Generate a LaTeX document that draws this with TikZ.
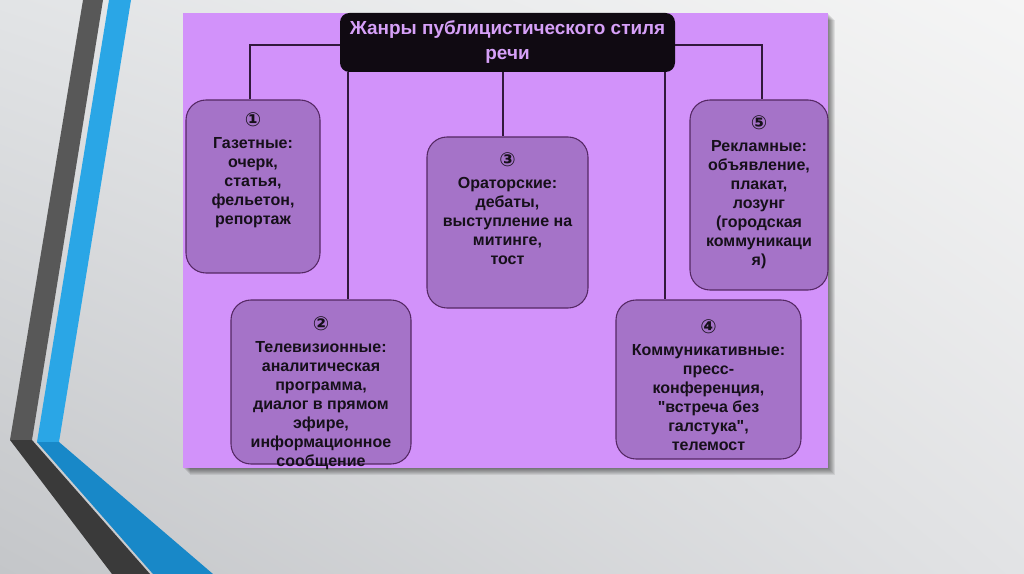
\documentclass[tikz,border=0pt]{standalone}
\usepackage{fontspec}
\setmainfont{Liberation Sans}[Ligatures=TeXOff]
\newfontfamily\symfont{DejaVu Sans}
\usetikzlibrary{shadings}
\definecolor{panelc}{RGB}{210,146,250}
\definecolor{boxc}{RGB}{165,115,200}
\definecolor{boxline}{RGB}{85,40,100}
\definecolor{titletext}{RGB}{214,160,248}
\definecolor{titlefill}{RGB}{16,10,18}
\definecolor{textc}{RGB}{22,16,26}
\definecolor{connc}{RGB}{50,25,60}
\definecolor{darkstripe}{RGB}{88,88,88}
\definecolor{darkstripeb}{RGB}{58,58,58}
\definecolor{bluestripe}{RGB}{42,166,230}
\definecolor{bluestripeb}{RGB}{24,136,200}
\definecolor{bgUL}{RGB}{226,228,230}
\definecolor{bgUR}{RGB}{245,245,245}
\definecolor{bgLL}{RGB}{196,198,201}
\definecolor{bgLR}{RGB}{226,227,229}
\tikzset{
  genrebox/.style={draw=boxline, line width=0.8pt, fill=boxc, rounded corners=15pt, inner sep=0pt},
  titlebox/.style={fill=titlefill, rounded corners=7pt, inner sep=0pt, text=titletext, align=center,
    font=\fontsize{14.2}{18.75}\selectfont\bfseries, minimum width=251.25pt, minimum height=44.25pt},
  txt/.style={anchor=north, align=center, inner sep=0pt, text=textc,
    font=\fontsize{12}{14.25}\selectfont\bfseries},
  conn/.style={draw=connc, line width=0.8pt},
  shadowlayer/.style={fill=black, opacity=0.08},
}
\newcommand{\circnum}[1]{{\symfont\fontsize{14.5}{15}\selectfont #1}\\[2pt]}
\begin{document}
\begin{tikzpicture}[x=0.75pt,y=-0.75pt]
\useasboundingbox (0,0) rectangle (1024,574);
% background
\shade[upper left=bgUL, upper right=bgUR, lower left=bgLL, lower right=bgLR] (0,0) rectangle (1024,574);
% stripes
\fill[darkstripe] (83,0) -- (103,0) -- (32,440) -- (10,440) -- cycle;
\fill[darkstripeb] (10,440) -- (32,440) -- (150,574) -- (112,574) -- cycle;
\fill[bluestripe] (109,0) -- (131,0) -- (59,442) -- (37,442) -- cycle;
\fill[bluestripeb] (37,442) -- (59,442) -- (213,574) -- (153,574) -- cycle;
% panel shadow
\foreach \s in {1,2,...,7} {\fill[shadowlayer] (183+\s,13+\s) rectangle (828+\s,468+\s);}
% panel
\fill[panelc] (183,13) rectangle (828,468);
% title
\node[titlebox] (title) at (507.5,42.5) {Жанры публицистического стиля\\речи};
% boxes
\node[genrebox, minimum width=100.5pt, minimum height=129.75pt] (b1) at (253,186.5) {};
\node[genrebox, minimum width=135pt, minimum height=123pt] (b2) at (321,382) {};
\node[genrebox, minimum width=120.75pt, minimum height=128.25pt] (b3) at (507.5,222.5) {};
\node[genrebox, minimum width=138.75pt, minimum height=119.25pt] (b4) at (708.5,379.5) {};
\node[genrebox, minimum width=103.5pt, minimum height=142.5pt] (b5) at (759,195) {};
% connector anchors
\coordinate (c1) at (250,45);
\coordinate (c2) at (348,0);
\coordinate (c3) at (503,0);
\coordinate (c4) at (665,0);
\coordinate (c5) at (762,45);
\draw[conn] (title.west |- c1) -| (b1.north -| c1);
\draw[conn] (title.east |- c5) -| (b5.north -| c5);
\draw[conn] (title.south -| c2) -- (b2.north -| c2);
\draw[conn] (title.south -| c3) -- (b3.north -| c3);
\draw[conn] (title.south -| c4) -- (b4.north -| c4);
% texts
\node[txt] (t1) at ([yshift=-10pt]b1.north) {\circnum{①}Газетные:\\очерк,\\статья,\\фельетон,\\репортаж};
\node[txt] (t2) at ([yshift=-13pt]b2.north) {\circnum{②}Телевизионные:\\аналитическая\\программа,\\диалог в прямом\\эфире,\\информационное\\сообщение};
\node[txt] (t3) at ([yshift=-12pt]b3.north) {\circnum{③}Ораторские:\\дебаты,\\выступление на\\митинге,\\тост};
\node[txt] (t4) at ([yshift=-15pt]b4.north) {\circnum{④}Коммуникативные:\\пресс-\\конференция,\\"встреча без\\галстука",\\телемост};
\node[txt] (t5) at ([yshift=-12pt]b5.north) {\circnum{⑤}Рекламные:\\объявление,\\плакат,\\лозунг\\(городская\\коммуникаци\\я)};
\end{tikzpicture}
\end{document}
